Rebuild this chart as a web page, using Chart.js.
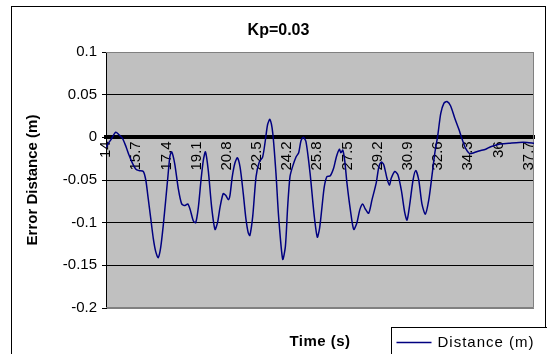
<!DOCTYPE html>
<html>
<head>
<meta charset="utf-8">
<script src="https://cdn.jsdelivr.net/npm/chart.js@4/dist/chart.umd.min.js"></script>
<style>
  html, body { margin: 0; padding: 0; background: #fff; }
  canvas { display: block; }
</style>
</head>
<body>
<canvas id="chart" width="547" height="354"></canvas>
<script>
// Labels
const chartTitle = 'Kp=0.03';
const seriesName = 'Distance (m)';
const xTitle = 'Time (s)';
const yTitle = 'Error Distance (m)';

// Category labels shown along the time axis (one every 17 samples)
const tickLabels = ['14', '15.7', '17.4', '19.1', '20.8', '22.5', '24.2', '25.8',
                    '27.5', '29.2', '30.9', '32.6', '34.3', '36', '37.7'];

// Time of each recorded point (s)
const times = [
  14.00, 14.17, 14.30, 14.55, 14.73, 14.92, 15.11, 15.30, 15.48, 15.67,
  15.86, 16.10, 16.24, 16.36, 16.52, 16.66, 16.80, 16.94, 17.08, 17.23,
  17.36, 17.49, 17.60, 17.70, 17.87, 18.07, 18.26, 18.45, 18.60, 18.73,
  18.92, 19.05, 19.20, 19.35, 19.48, 19.60, 19.76, 19.95, 20.14, 20.29,
  20.42, 20.60, 20.74, 20.89, 20.98, 21.11, 21.26, 21.40, 21.55, 21.73,
  21.87, 22.01, 22.10, 22.26, 22.45, 22.63, 22.82, 22.97, 23.10, 23.23,
  23.39, 23.57, 23.72, 23.95, 24.10, 24.23, 24.36, 24.51, 24.70, 24.85,
  24.98, 25.11, 25.26, 25.49, 25.73, 25.90, 26.03, 26.16, 26.29, 26.44,
  26.63, 26.82, 26.97, 27.14, 27.23, 27.33, 27.44, 27.57, 27.76, 27.95,
  28.13, 28.29, 28.45, 28.60, 28.79, 28.98, 29.22, 29.36, 29.50, 29.64,
  29.82, 29.96, 30.06, 30.26, 30.44, 30.63, 30.82, 30.95, 31.10, 31.29,
  31.44, 31.61, 31.79, 31.98, 32.17, 32.36, 32.51, 32.68, 32.85, 33.03,
  33.20, 33.40, 33.63, 33.86, 34.05, 34.25, 34.47, 34.72, 35.00, 35.38,
  35.66, 36.13, 36.69, 37.26, 37.71, 38.10
];

// Error distance at each time (m)
const distance = [
  -0.012, -0.006, -0.002,  0.006,  0.003, -0.001, -0.010, -0.021, -0.030, -0.037,
  -0.039, -0.040, -0.050, -0.069, -0.095, -0.118, -0.134, -0.141, -0.129, -0.102,
  -0.074, -0.045, -0.022, -0.017, -0.031, -0.060, -0.078, -0.080, -0.078, -0.084,
  -0.098, -0.100, -0.082, -0.050, -0.027, -0.017, -0.039, -0.082, -0.108, -0.099,
  -0.082, -0.066, -0.068, -0.073, -0.068, -0.046, -0.030, -0.024, -0.035, -0.066,
  -0.094, -0.112, -0.115, -0.093, -0.046, -0.029, -0.023, -0.004,  0.015,  0.021,
   0.005, -0.042, -0.093, -0.143, -0.128, -0.081, -0.046, -0.034, -0.023, -0.018,
  -0.004,  0.000, -0.005, -0.042, -0.093, -0.117, -0.106, -0.082, -0.058, -0.046,
  -0.045, -0.036, -0.023, -0.014, -0.018, -0.015, -0.027, -0.054, -0.085, -0.108,
  -0.100, -0.085, -0.078, -0.084, -0.089, -0.073, -0.053, -0.035, -0.029, -0.032,
  -0.048, -0.056, -0.048, -0.040, -0.044, -0.062, -0.088, -0.097, -0.079, -0.050,
  -0.039, -0.050, -0.078, -0.090, -0.074, -0.044, -0.019,  0.002,  0.028,  0.040,
   0.042,  0.037,  0.023,  0.010, -0.002, -0.013, -0.019, -0.018, -0.016, -0.014,
  -0.011, -0.008, -0.007, -0.006, -0.006, -0.007
];

const FONT = 'Arial, "Liberation Sans", sans-serif';
Chart.defaults.font.family = FONT;
Chart.defaults.color = '#000';

const sampleStep = 0.1;      // s between samples
const samplesPerLabel = 17;  // one axis label every 17 samples
const plotFill = '#c0c0c0';
const plotEdge = '#808080';
const lineColor = '#000080';

// Worksheet-style chart frame: plot background and border, outer border,
// chart title, x-axis title under the plot and a boxed legend at bottom right.
const sheetPlugin = {
  id: 'sheet',
  beforeDraw(chart) {
    const { ctx, chartArea: a } = chart;
    ctx.save();
    ctx.fillStyle = '#fff';
    ctx.fillRect(0, 0, chart.width, chart.height);
    ctx.fillStyle = plotFill;
    ctx.fillRect(a.left, a.top, a.right - a.left, a.bottom - a.top);
    ctx.restore();
  },
  beforeDatasetsDraw(chart) {
    const { ctx, chartArea: a } = chart;
    ctx.save();
    ctx.strokeStyle = plotEdge;
    ctx.lineWidth = 1;
    ctx.beginPath();
    ctx.moveTo(a.left, Math.round(a.top) + 0.5);
    ctx.lineTo(Math.round(a.right) - 0.5, Math.round(a.top) + 0.5);
    ctx.lineTo(Math.round(a.right) - 0.5, Math.round(a.bottom) - 0.5);
    ctx.lineTo(a.left, Math.round(a.bottom) - 0.5);
    ctx.stroke();
    ctx.restore();
  },
  afterDraw(chart) {
    const { ctx, chartArea: a } = chart;
    const ds = chart.data.datasets[0];
    const frameL = 11.5, frameT = 6.5, frameW = 534;
    ctx.save();
    // outer chart border
    ctx.strokeStyle = '#000';
    ctx.lineWidth = 1;
    ctx.strokeRect(frameL, frameT, frameW, 400);

    // chart title, centred on the frame
    ctx.fillStyle = '#000';
    ctx.font = 'bold 16px ' + FONT;
    ctx.textAlign = 'center';
    ctx.textBaseline = 'middle';
    ctx.fillText(chartTitle, frameL + frameW / 2, 31);

    // x-axis title
    ctx.font = 'bold 15px ' + FONT;
    ctx.letterSpacing = '0.5px';
    ctx.fillText(xTitle, (a.left + a.right) / 2, a.bottom + 34);

    // legend
    const lx = 391.5, ly = a.bottom + 19.5, ty = a.bottom + 34.5;
    ctx.fillStyle = '#fff';
    ctx.fillRect(lx, ly, 170, 60);
    ctx.strokeRect(lx, ly, 170, 60);
    ctx.strokeStyle = ds.borderColor;
    ctx.lineWidth = 1.5;
    ctx.beginPath();
    ctx.moveTo(lx + 5, ty);
    ctx.lineTo(lx + 40, ty);
    ctx.stroke();
    ctx.fillStyle = '#000';
    ctx.font = '15px ' + FONT;
    ctx.letterSpacing = '1px';
    ctx.textAlign = 'left';
    ctx.fillText(ds.label, lx + 46, ty);
    ctx.restore();
  }
};

new Chart(document.getElementById('chart'), {
  type: 'line',
  data: {
    datasets: [{
      label: seriesName,
      data: times.map((t, i) => ({ x: t, y: distance[i] })),
      borderColor: lineColor,
      backgroundColor: lineColor,
      borderWidth: 1.5,
      pointRadius: 0,
      tension: 0.25,
      fill: false
    }]
  },
  options: {
    responsive: false,
    animation: false,
    devicePixelRatio: 1,
    layout: { padding: { left: 12, right: 13, top: 52, bottom: 46 } },
    plugins: {
      legend: { display: false },
      tooltip: { enabled: false },
      title: { display: false }
    },
    scales: {
      x: {
        type: 'linear',
        position: { y: 0 },
        min: times[0],
        max: times[times.length - 1],
        afterBuildTicks(scale) {
          scale.ticks = tickLabels.map((_, i) => ({ value: times[0] + i * samplesPerLabel * sampleStep }));
        },
        afterFit(scale) {
          scale.paddingLeft = 0;
          scale.paddingRight = 0;
          scale.paddingTop = 0;
          scale.paddingBottom = 0;
        },
        ticks: {
          autoSkip: false,
          minRotation: 90,
          maxRotation: 90,
          padding: 4,
          font: { size: 15 },
          color: '#000',
          callback: (v, i) => tickLabels[i]
        },
        grid: { display: false, drawTicks: false },
        border: { display: true, color: '#000', width: 4 }
      },
      y: {
        type: 'linear',
        position: 'left',
        min: -0.2,
        max: 0.1,
        afterFit(scale) {
          scale.width = 94;
          scale.paddingTop = 0;
          scale.paddingBottom = 0;
        },
        ticks: {
          stepSize: 0.05,
          padding: 5,
          font: { size: 15 },
          color: '#000',
          callback: v => String(+v.toFixed(2))
        },
        grid: {
          color: c => (c.tick && (Math.abs(c.tick.value - 0.1) < 1e-9 || Math.abs(c.tick.value + 0.2) < 1e-9)) ? plotEdge : '#000',
          tickColor: '#000',
          tickLength: 4,
          lineWidth: 1
        },
        border: { display: true, color: '#000', width: 1 },
        title: {
          display: true,
          text: yTitle,
          color: '#000',
          font: { size: 15, weight: 'bold' },
          padding: { top: 12, bottom: 0 }
        }
      }
    }
  },
  plugins: [sheetPlugin]
});
</script>
</body>
</html>
